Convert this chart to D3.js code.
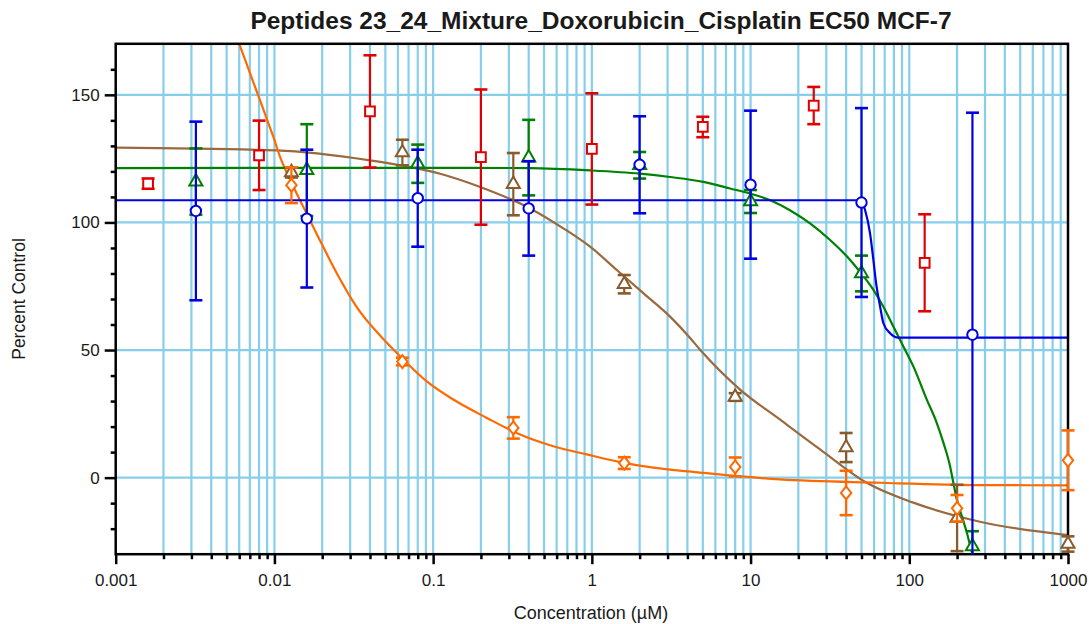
<!DOCTYPE html>
<html>
<head>
<meta charset="utf-8">
<script src="https://cdn.jsdelivr.net/npm/d3@7"></script>
<style>
  body { margin: 0; background: #fff; }
  text { font-family: "Liberation Sans", Arial, sans-serif; fill: #1a1a1a; }
</style>
</head>
<body>
<div id="chart-area"></div>
<script>
// Chart text
const chartTitle = "Peptides 23_24_Mixture_Doxorubicin_Cisplatin EC50 MCF-7";
const xTitle = "Concentration (µM)";
const yTitle = "Percent Control";

// Axis ticks
const xMajorTicks = [0.001, 0.01, 0.1, 1, 10, 100, 1000];
const xTickLabels = ["0.001", "0.01", "0.1", "1", "10", "100", "1000"];
const yMajorTicks = [0, 50, 100, 150];

// Red squares (no fit)
const redConc = [0.0016, 0.008, 0.04, 0.2, 1, 5, 25, 125];
const redMean = [115.2, 126.3, 143.5, 125.6, 128.8, 137.4, 145.8, 84.2];
const redSd = [2, 13.6, 22, 26.5, 21.8, 4, 7.3, 19];

// Blue circles
const blueConc = [0.0032, 0.016, 0.08, 0.4, 2, 10, 50, 250];
const blueMean = [104.5, 101.5, 109.5, 105.5, 122.6, 114.8, 107.8, 56];
const blueSd = [35, 27, 19, 18.5, 19, 29, 37, 87];
const blueFitX = [0.001, 49.5, 52.7, 56.6, 59.4, 61.8, 65.5, 68.7, 75.7, 85.3, 1000];
const blueFitY = [108.7, 108.7, 104.8, 95.7, 85.3, 76.2, 67, 60.5, 56.6, 54.9, 54.9];

// Green triangles
const greenConc = [0.0032, 0.016, 0.08, 0.4, 2, 10, 50, 250];
const greenMean = [116, 120.5, 123, 125.4, 122.4, 108.2, 80, -27];
const greenSd = [13, 18, 7.5, 14.8, 5.2, 4.5, 7, 6];
const greenFitX = [0.001, 0.155, 0.408, 0.975, 2.01, 3.11, 5.04, 7.43, 9.94, 13.3, 17.7, 23.7, 31.7, 42.4, 49.7,
  59.4, 68.7, 79.4, 91.8, 106.1, 128.9, 148.9, 164, 180.7, 189.6, 199.2, 214.1, 230.3, 247.7];
const greenFitY = [121.3, 121.4, 121.3, 120.4, 119.1, 117.8, 115.9, 113.3, 111.3, 108.7, 104.8, 99.6, 93.1, 85.3, 80.1,
  73.6, 67, 59.2, 51.4, 43.6, 30.6, 21.5, 13.7, 4.5, -2, -8.5, -15, -21.5, -29.3];

// Brown triangles
const brownConc = [0.0128, 0.064, 0.32, 1.6, 8, 40, 200, 1000];
const brownMean = [119.6, 127.4, 115, 75.8, 31.6, 11.8, -15.8, -26];
const brownSd = [2, 5, 12.2, 3.6, 1.5, 5.7, 13, 3];
const brownFitX = [0.001, 0.0103, 0.04, 0.0618, 0.1106, 0.198, 0.408, 0.661, 0.975, 1.435, 2.11, 3.11, 4.16, 4.81,
  8.59, 15.3, 27.4, 53.9, 106.1, 279, 1000];
const brownFitY = [129.3, 128.2, 124.3, 122.4, 119.1, 113.9, 105.5, 97.7, 90.5, 81.4, 72.3, 63.1, 54.7, 50.1,
  34.5, 22.8, 11.1, -2, -9.8, -17.3, -22.5];

// Orange diamonds
const orangeConc = [0.0128, 0.064, 0.32, 1.6, 8, 40, 200, 1000];
const orangeMean = [114.6, 45.5, 19.5, 5.7, 4.2, -6, -12, 6.8];
const orangeSd = [7, 1.5, 4.2, 2.3, 3.7, 8.7, 5.2, 11.7];
const orangeFitX = [0.00592, 0.00669, 0.00736, 0.00812, 0.00894, 0.00984, 0.01084, 0.01253, 0.01521, 0.01848,
  0.02471, 0.03302, 0.04853, 0.06339, 0.0912, 0.134, 0.218, 0.353, 0.572, 0.929, 1.506, 2.44, 4.81, 15.3, 65.5, 279, 1000];
const orangeFitY = [171, 162, 155, 147.8, 140.7, 133.6, 125.8, 116.8, 106.1, 95.5,
  80.1, 66.8, 54.3, 46.9, 37.7, 30.6, 23.4, 16.9, 12.3, 9.1, 6.1, 3.9, 2.0, -0.7, -2, -2.9, -3];

// custom diamond symbol, wider than d3's default
const wideDiamond = {
  draw(ctx, size) {
    const h = Math.sqrt(size) * 0.62, w = h * 0.8;
    ctx.moveTo(0, -h); ctx.lineTo(w, 0); ctx.lineTo(0, h); ctx.lineTo(-w, 0); ctx.closePath();
  }
};

const seriesList = [
  { color: "#e00000", conc: redConc, mean: redMean, sd: redSd, symbol: d3.symbolSquare, size: 95 },
  { color: "#8a5a2b", conc: brownConc, mean: brownMean, sd: brownSd, symbol: d3.symbolTriangle, size: 74, fx: brownFitX, fy: brownFitY, lineColor: "#9a6a3e" },
  { color: "#ff6a00", conc: orangeConc, mean: orangeMean, sd: orangeSd, symbol: wideDiamond, size: 110, fx: orangeFitX, fy: orangeFitY },
  { color: "#008000", conc: greenConc, mean: greenMean, sd: greenSd, symbol: d3.symbolTriangle, size: 74, fx: greenFitX, fy: greenFitY },
  { color: "#0000e0", conc: blueConc, mean: blueMean, sd: blueSd, symbol: d3.symbolCircle, size: 85, fx: blueFitX, fy: blueFitY }
];

const chartWidth = 1089, chartHeight = 624;
const plot = { left: 115.7, right: 1068, top: 43.8, bottom: 554.2 };

const svg = d3.select("#chart-area").append("svg")
  .attr("width", chartWidth)
  .attr("height", chartHeight);

const xScale = d3.scaleLog().domain([0.001, 1000]).range([plot.left, plot.right]);
const yScale = d3.scaleLinear().domain([-30, 170]).range([plot.bottom, plot.top]);

// minor tick positions from the axes themselves
const xMinorTicks = [];
xMajorTicks.slice(0, -1).forEach(d => d3.range(2, 10).forEach(k => xMinorTicks.push(d * k)));
const yMinorTicks = d3.range(-20, 170, 10).filter(v => v % 50 !== 0);

svg.append("defs").append("clipPath").attr("id", "plot-clip")
  .append("rect")
  .attr("x", plot.left).attr("y", plot.top)
  .attr("width", plot.right - plot.left).attr("height", plot.bottom - plot.top);

// grid
const grid = svg.append("g").attr("stroke", "#87ceeb").attr("stroke-width", 2.2);
grid.selectAll(".vgrid")
  .data(xMinorTicks.concat(xMajorTicks.slice(1, -1)))
  .join("line")
    .attr("x1", d => xScale(d)).attr("x2", d => xScale(d))
    .attr("y1", plot.top).attr("y2", plot.bottom);
grid.selectAll(".hgrid")
  .data(yMajorTicks)
  .join("line")
    .attr("x1", plot.left).attr("x2", plot.right)
    .attr("y1", d => yScale(d)).attr("y2", d => yScale(d));

// fitted curves
const line = d3.line()
  .x(d => xScale(d[0]))
  .y(d => yScale(d[1]))
  .curve(d3.curveMonotoneX);

const curves = svg.append("g").attr("clip-path", "url(#plot-clip)");
seriesList.filter(s => s.fx).forEach(s => {
  curves.append("path")
    .datum(d3.zip(s.fx, s.fy))
    .attr("d", line)
    .attr("fill", "none")
    .attr("stroke", s.lineColor || s.color)
    .attr("stroke-width", 2.2);
});

// axes
const yAxis = svg.append("g")
  .attr("transform", `translate(${plot.left},0)`)
  .call(d3.axisLeft(yScale).tickValues(yMajorTicks).tickSize(11).tickPadding(5));
const yMinor = svg.append("g")
  .attr("transform", `translate(${plot.left},0)`)
  .call(d3.axisLeft(yScale).tickValues(yMinorTicks).tickSize(5).tickFormat(""));
const xAxis = svg.append("g")
  .attr("transform", `translate(0,${plot.bottom})`)
  .call(d3.axisBottom(xScale).tickValues(xMajorTicks).tickSize(10).tickPadding(10)
    .tickFormat((d, i) => xTickLabels[i]));
const xMinor = svg.append("g")
  .attr("transform", `translate(0,${plot.bottom})`)
  .call(d3.axisBottom(xScale).tickValues(xMinorTicks).tickSize(5).tickFormat(""));

[yAxis, yMinor, xAxis, xMinor].forEach(a => {
  a.select(".domain").remove();
  a.selectAll(".tick line").attr("stroke", "#000").attr("stroke-width", 2.5);
  a.selectAll(".tick text").attr("font-size", 17).attr("fill", "#1a1a1a")
    .style("font-family", '"Liberation Sans", Arial, sans-serif');
});

// frame
svg.append("rect")
  .attr("x", plot.left).attr("y", plot.top)
  .attr("width", plot.right - plot.left).attr("height", plot.bottom - plot.top)
  .attr("fill", "none").attr("stroke", "#000").attr("stroke-width", 2.5);

// error bars + markers
const capHalf = 6.5;
seriesList.forEach(s => {
  const pts = s.conc.map((c, i) => ({ x: c, y: s.mean[i], sd: s.sd[i] }));
  const g = svg.append("g");
  const bars = g.append("g").attr("stroke", s.color).attr("stroke-width", 2.2);
  bars.selectAll(".eb")
    .data(pts)
    .join("line")
      .attr("x1", d => xScale(d.x)).attr("x2", d => xScale(d.x))
      .attr("y1", d => yScale(Math.min(d.y + d.sd, 170))).attr("y2", d => yScale(Math.max(d.y - d.sd, -30)));
  bars.selectAll(".cap-top")
    .data(pts.filter(d => d.y + d.sd <= 170))
    .join("line")
      .attr("x1", d => xScale(d.x) - capHalf).attr("x2", d => xScale(d.x) + capHalf)
      .attr("y1", d => yScale(d.y + d.sd)).attr("y2", d => yScale(d.y + d.sd))
      .attr("stroke-width", 2.6);
  bars.selectAll(".cap-bot")
    .data(pts.filter(d => d.y - d.sd >= -30))
    .join("line")
      .attr("x1", d => xScale(d.x) - capHalf).attr("x2", d => xScale(d.x) + capHalf)
      .attr("y1", d => yScale(d.y - d.sd)).attr("y2", d => yScale(d.y - d.sd))
      .attr("stroke-width", 2.6);
  g.selectAll(".mk")
    .data(pts)
    .join("path")
      .attr("transform", d => `translate(${xScale(d.x)},${yScale(d.y)})`)
      .attr("d", d3.symbol(s.symbol, s.size))
      .attr("fill", "#fff")
      .attr("stroke", s.color)
      .attr("stroke-width", 2);
});

// titles
svg.append("text")
  .attr("x", 601).attr("y", 29)
  .attr("text-anchor", "middle")
  .attr("font-size", 24.5).attr("font-weight", "bold")
  .text(chartTitle);
svg.append("text")
  .attr("x", 591).attr("y", 619)
  .attr("text-anchor", "middle")
  .attr("font-size", 18)
  .text(xTitle);
svg.append("text")
  .attr("transform", "translate(25,299) rotate(-90)")
  .attr("text-anchor", "middle")
  .attr("font-size", 17.5)
  .text(yTitle);
</script>
</body>
</html>
